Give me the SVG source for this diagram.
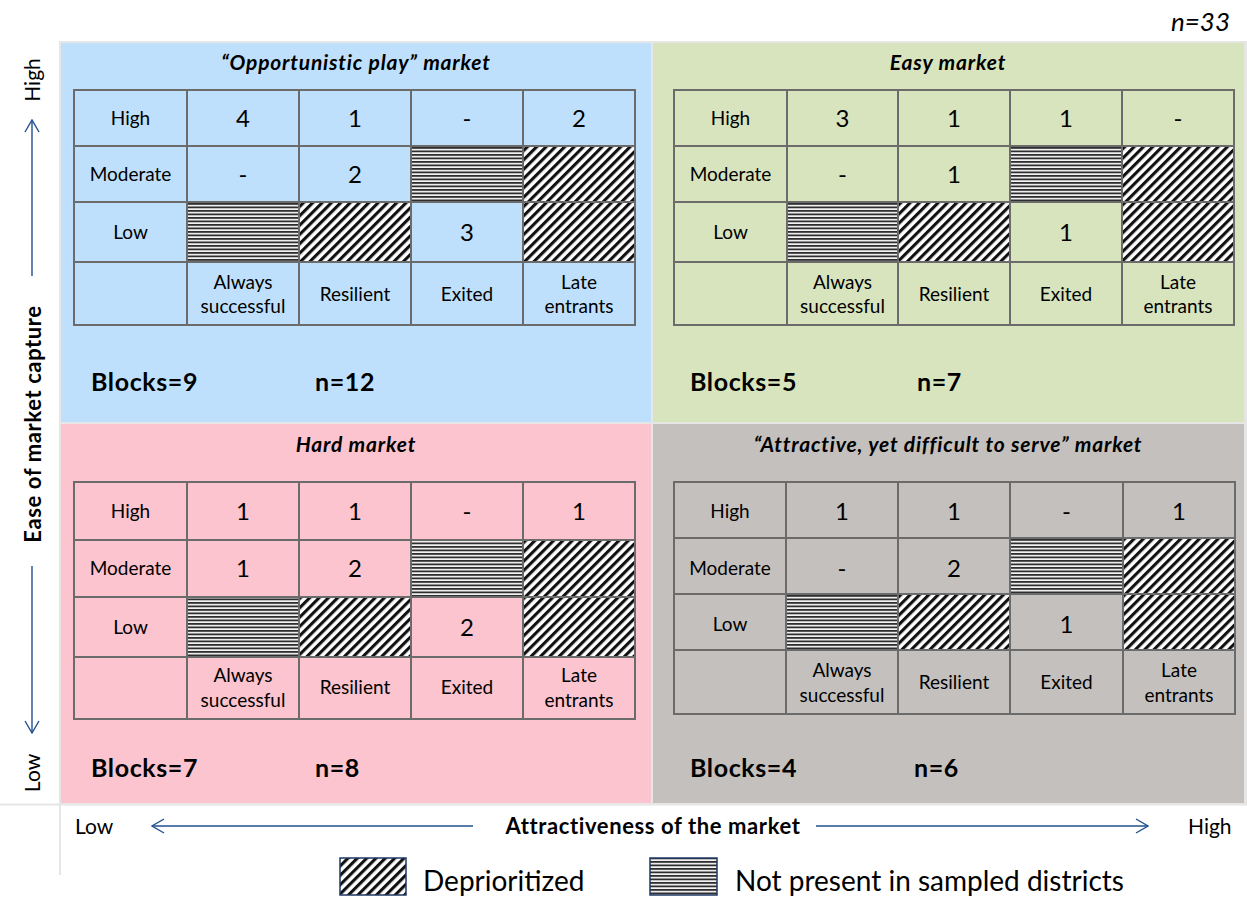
<svg xmlns="http://www.w3.org/2000/svg" width="1247" height="899" viewBox="0 0 1247 899">
  <style>
    text { font-family: Lato, "Open Sans", "Liberation Sans", sans-serif; fill: #000; }
    .title { font-size: 21px; font-weight: bold; font-style: italic; text-anchor: middle; letter-spacing: 0.8px; }
    .lbl { font-size: 19px; text-anchor: middle; }
    .sub { font-size: 19px; text-anchor: middle; }
    .num { font-size: 24px; text-anchor: middle; }
    .stat { font-size: 25px; font-weight: bold; letter-spacing: 0.6px; }
    .axis { font-size: 21px; }
    .axisb { font-size: 22px; font-weight: bold; letter-spacing: 0.6px; }
    .leg { font-size: 28px; }
    .grid { fill: none; stroke: #6b6b6b; stroke-width: 2; }
    .arr { stroke: #23508e; stroke-width: 1.4; fill: none; }
    .hl { fill: url(#hlines); }
    .dg { fill: url(#diag); }
  </style>
  <defs>
    <pattern id="diag" width="6.6" height="6.6" patternUnits="userSpaceOnUse" patternTransform="rotate(45)">
      <rect width="6.6" height="6.6" fill="#fff"/>
      <rect width="3.1" height="6.6" fill="#111"/>
    </pattern>
    <pattern id="hlines" width="8" height="3.5" patternUnits="userSpaceOnUse">
      <rect width="8" height="3.5" fill="#f4f4f4"/>
      <rect width="8" height="1.8" fill="#2e2e2e"/>
    </pattern>
    <marker id="head" viewBox="0 0 14 16" refX="13" refY="8" markerWidth="14" markerHeight="16" markerUnits="userSpaceOnUse" orient="auto">
      <path d="M1,1 L13,8 L1,15" fill="none" stroke="#23508e" stroke-width="1.4"/>
    </marker>
  </defs>

  <rect width="1247" height="899" fill="#fff"/>

  <!-- frame behind the four quadrants -->
  <rect x="59" y="41" width="1188" height="764" fill="#e6e6e6"/>
  <line x1="0" y1="804.5" x2="1247" y2="804.5" stroke="#e6e6e6" stroke-width="2"/>
  <line x1="60" y1="41" x2="60" y2="875" stroke="#e6e6e6" stroke-width="2"/>

  <text x="1230" y="31" style="font-size:26px;font-style:italic;text-anchor:end">n=33</text>

  <!-- top-left quadrant -->
  <g id="opportunistic">
    <rect x="61" y="43" width="590" height="379" fill="#bfe0fd"/>
    <text class="title" x="356" y="70">“Opportunistic play” market</text>
    <rect class="hl" x="411" y="146" width="112" height="56"/>
    <rect class="dg" x="523" y="146" width="112" height="56"/>
    <rect class="hl" x="187" y="202" width="112" height="60"/>
    <rect class="dg" x="299" y="202" width="112" height="60"/>
    <rect class="dg" x="523" y="202" width="112" height="60"/>
    <path class="grid" d="M74,90H635V325H74Z M74,146H635 M74,202H635 M74,262H635 M187,90V325 M299,90V325 M411,90V325 M523,90V325"/>
    <text class="lbl" x="130.5" y="125">High</text>
    <text class="lbl" x="130.5" y="181">Moderate</text>
    <text class="lbl" x="130.5" y="239">Low</text>
    <text class="num" x="243" y="127">4</text>
    <text class="num" x="355" y="127">1</text>
    <text class="num" x="467" y="127">-</text>
    <text class="num" x="579" y="127">2</text>
    <text class="num" x="243" y="183">-</text>
    <text class="num" x="355" y="183">2</text>
    <text class="num" x="467" y="241">3</text>
    <text class="sub" x="243" y="289">Always</text>
    <text class="sub" x="243" y="313">successful</text>
    <text class="sub" x="355" y="301">Resilient</text>
    <text class="sub" x="467" y="301">Exited</text>
    <text class="sub" x="579" y="289">Late</text>
    <text class="sub" x="579" y="313">entrants</text>
    <text class="stat" x="91" y="391">Blocks=9</text>
    <text class="stat" x="315" y="391">n=12</text>
  </g>

  <!-- top-right quadrant -->
  <g id="easy">
    <rect x="653" y="43" width="591" height="379" fill="#d8e4bd"/>
    <text class="title" x="948" y="70">Easy market</text>
    <rect class="hl" x="1010" y="146" width="112" height="56"/>
    <rect class="dg" x="1122" y="146" width="112" height="56"/>
    <rect class="hl" x="787" y="202" width="111" height="60"/>
    <rect class="dg" x="898" y="202" width="112" height="60"/>
    <rect class="dg" x="1122" y="202" width="112" height="60"/>
    <path class="grid" d="M674,90H1234V325H674Z M674,146H1234 M674,202H1234 M674,262H1234 M787,90V325 M898,90V325 M1010,90V325 M1122,90V325"/>
    <text class="lbl" x="730.5" y="125">High</text>
    <text class="lbl" x="730.5" y="181">Moderate</text>
    <text class="lbl" x="730.5" y="239">Low</text>
    <text class="num" x="842.5" y="127">3</text>
    <text class="num" x="954" y="127">1</text>
    <text class="num" x="1066" y="127">1</text>
    <text class="num" x="1178" y="127">-</text>
    <text class="num" x="842.5" y="183">-</text>
    <text class="num" x="954" y="183">1</text>
    <text class="num" x="1066" y="241">1</text>
    <text class="sub" x="842.5" y="289">Always</text>
    <text class="sub" x="842.5" y="313">successful</text>
    <text class="sub" x="954" y="301">Resilient</text>
    <text class="sub" x="1066" y="301">Exited</text>
    <text class="sub" x="1178" y="289">Late</text>
    <text class="sub" x="1178" y="313">entrants</text>
    <text class="stat" x="690" y="391">Blocks=5</text>
    <text class="stat" x="917" y="391">n=7</text>
  </g>

  <!-- bottom-left quadrant -->
  <g id="hard">
    <rect x="61" y="424" width="590" height="379" fill="#fbc4ce"/>
    <text class="title" x="356" y="452">Hard market</text>
    <rect class="hl" x="411" y="540" width="112" height="57"/>
    <rect class="dg" x="523" y="540" width="112" height="57"/>
    <rect class="hl" x="187" y="597" width="112" height="60"/>
    <rect class="dg" x="299" y="597" width="112" height="60"/>
    <rect class="dg" x="523" y="597" width="112" height="60"/>
    <path class="grid" d="M74,482H635V719H74Z M74,540H635 M74,597H635 M74,657H635 M187,482V719 M299,482V719 M411,482V719 M523,482V719"/>
    <text class="lbl" x="130.5" y="518">High</text>
    <text class="lbl" x="130.5" y="575">Moderate</text>
    <text class="lbl" x="130.5" y="634">Low</text>
    <text class="num" x="243" y="520">1</text>
    <text class="num" x="355" y="520">1</text>
    <text class="num" x="467" y="520">-</text>
    <text class="num" x="579" y="520">1</text>
    <text class="num" x="243" y="577">1</text>
    <text class="num" x="355" y="577">2</text>
    <text class="num" x="467" y="636">2</text>
    <text class="sub" x="243" y="682">Always</text>
    <text class="sub" x="243" y="707">successful</text>
    <text class="sub" x="355" y="694">Resilient</text>
    <text class="sub" x="467" y="694">Exited</text>
    <text class="sub" x="579" y="682">Late</text>
    <text class="sub" x="579" y="707">entrants</text>
    <text class="stat" x="91" y="777">Blocks=7</text>
    <text class="stat" x="315" y="777">n=8</text>
  </g>

  <!-- bottom-right quadrant -->
  <g id="attractive-difficult">
    <rect x="653" y="424" width="591" height="379" fill="#c4c0be"/>
    <text class="title" x="948" y="452">“Attractive, yet difficult to serve” market</text>
    <rect class="hl" x="1010" y="538" width="113" height="56"/>
    <rect class="dg" x="1123" y="538" width="112" height="56"/>
    <rect class="hl" x="786" y="594" width="112" height="56"/>
    <rect class="dg" x="898" y="594" width="112" height="56"/>
    <rect class="dg" x="1123" y="594" width="112" height="56"/>
    <path class="grid" d="M674,482H1235V714H674Z M674,538H1235 M674,594H1235 M674,650H1235 M786,482V714 M898,482V714 M1010,482V714 M1123,482V714"/>
    <text class="lbl" x="730" y="518">High</text>
    <text class="lbl" x="730" y="575">Moderate</text>
    <text class="lbl" x="730" y="631">Low</text>
    <text class="num" x="842" y="520">1</text>
    <text class="num" x="954" y="520">1</text>
    <text class="num" x="1066.5" y="520">-</text>
    <text class="num" x="1179" y="520">1</text>
    <text class="num" x="842" y="577">-</text>
    <text class="num" x="954" y="577">2</text>
    <text class="num" x="1066.5" y="633">1</text>
    <text class="sub" x="842" y="677">Always</text>
    <text class="sub" x="842" y="702">successful</text>
    <text class="sub" x="954" y="689">Resilient</text>
    <text class="sub" x="1066.5" y="689">Exited</text>
    <text class="sub" x="1179" y="677">Late</text>
    <text class="sub" x="1179" y="702">entrants</text>
    <text class="stat" x="690" y="777">Blocks=4</text>
    <text class="stat" x="914" y="777">n=6</text>
  </g>

  <!-- axis titles -->
  <g id="axes">
    <text class="axis" transform="translate(40,80) rotate(-90)" text-anchor="middle">High</text>
    <text class="axisb" transform="translate(41,424) rotate(-90)" text-anchor="middle">Ease of market capture</text>
    <text class="axis" transform="translate(40,773) rotate(-90)" text-anchor="middle">Low</text>
    <text class="axis" x="75" y="834">Low</text>
    <text class="axisb" x="653" y="834" text-anchor="middle">Attractiveness of the market</text>
    <text class="axis" x="1188" y="834">High</text>
  </g>

  <!-- axis arrows -->
  <g id="connectors">
    <line class="arr" x1="32" y1="276" x2="32" y2="120" marker-end="url(#head)"/>
    <line class="arr" x1="32" y1="566" x2="32" y2="733" marker-end="url(#head)"/>
    <line class="arr" x1="473" y1="826" x2="152" y2="826" marker-end="url(#head)"/>
    <line class="arr" x1="816" y1="826" x2="1148" y2="826" marker-end="url(#head)"/>
  </g>

  <!-- legend -->
  <g id="legend">
    <rect x="340" y="858" width="66" height="37" fill="url(#diag)" stroke="#1f3864" stroke-width="1.5"/>
    <text class="leg" x="423" y="891">Deprioritized</text>
    <rect x="650" y="858" width="67" height="37" fill="url(#hlines)" stroke="#1f3864" stroke-width="1.5"/>
    <text class="leg" x="735" y="891">Not present in sampled districts</text>
  </g>
</svg>
